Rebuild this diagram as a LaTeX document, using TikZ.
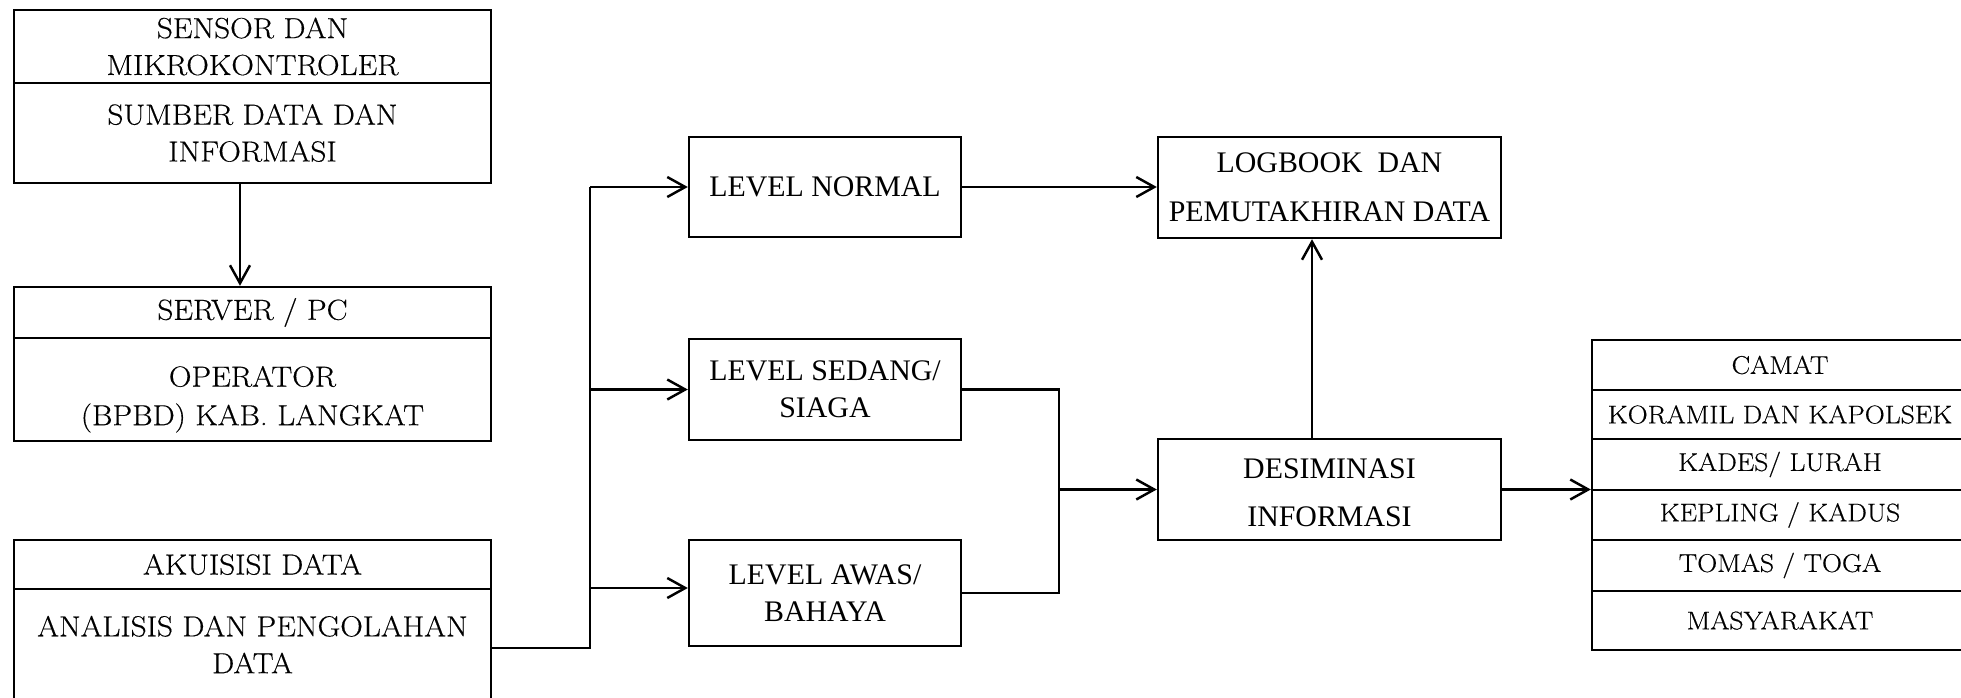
\documentclass[tikz,border=0pt]{standalone}
\usepackage{fontspec}
\newfontfamily\timesf{Liberation Serif}
\newfontfamily\widef{Latin Modern Roman}[FakeStretch=1.08,FakeBold=0.4]
\usetikzlibrary{arrows.meta}
\begin{document}
\begin{tikzpicture}[x=0.02cm,y=-0.02cm,
  box/.style={draw, line width=1.4pt, inner sep=0pt, align=center, rectangle},
  lbox/.style={box, minimum width=9.54cm, font=\widef\fontsize{16.5}{21}\selectfont},
  mbox/.style={box, font=\timesf\fontsize{17}{21}\selectfont},
  rbox/.style={box, minimum width=7.52cm, font=\widef\fontsize{14.6}{18}\selectfont},
  ln/.style={line width=1.4pt},
  arr/.style={ln, -{Straight Barb[length=3.6mm,width=4mm]}}]
\useasboundingbox (0,0) rectangle (1961,697);

% left column
\node[lbox, minimum height=1.46cm] (sen) at (252.5,46.5) {SENSOR DAN\\MIKROKONTROLER};
\node[lbox, minimum height=2.0cm] (sum) at (252.5,133) {SUMBER DATA DAN\\INFORMASI};
\node[lbox, minimum height=1.02cm] (srv) at (252.5,312.5) {SERVER / PC};
\node[lbox, minimum height=2.06cm] (opr) at (252.5,389.5) {\raisebox{-0.18cm}[\height][\depth]{\begin{tabular}{@{}c@{}}OPERATOR\\[1pt](BPBD) KAB. LANGKAT\end{tabular}}};
\node[lbox, minimum height=0.98cm] (aku) at (252.5,564.5) {AKUISISI DATA};
\node[lbox, minimum height=2.22cm] (ana) at (252.5,644.5) {ANALISIS DAN PENGOLAHAN\\DATA};

% middle column
\node[mbox, minimum width=5.44cm, minimum height=2.0cm] (nor) at (825,187) {LEVEL NORMAL};
\node[mbox, minimum width=5.44cm, minimum height=2.02cm] (sed) at (825,389.5) {LEVEL SEDANG/\\SIAGA};
\node[mbox, minimum width=5.44cm, minimum height=2.12cm] (awa) at (825,593) {LEVEL AWAS/\\BAHAYA};
\node[mbox, minimum width=6.86cm, minimum height=2.02cm, font=\timesf\fontsize{17}{28}\selectfont] (log) at (1329.5,187.5) {LOGBOOK\ \ DAN\\PEMUTAKHIRAN DATA};
\node[mbox, minimum width=6.86cm, minimum height=2.02cm, font=\timesf\fontsize{17}{27}\selectfont] (des) at (1329.5,489.5) {\raisebox{-0.07cm}[\height][\depth]{\begin{tabular}{@{}c@{}}DESIMINASI\\INFORMASI\end{tabular}}};

% right column
\node[rbox, minimum height=1.0cm] (cam) at (1780,365) {CAMAT};
\node[rbox, minimum height=0.98cm] (kor) at (1780,414.5) {KORAMIL DAN KAPOLSEK};
\node[rbox, minimum height=1.02cm] (kad) at (1780,464.5) {KADES/ LURAH};
\node[rbox, minimum height=1.0cm] (kep) at (1780,515) {KEPLING / KADUS};
\node[rbox, minimum height=1.02cm] (tom) at (1780,565.5) {TOMAS / TOGA};
\node[rbox, minimum height=1.18cm] (mas) at (1780,620.5) {MASYARAKAT};

% connectors
\coordinate (ax) at (240,0);
\draw[arr] (ax |- sum.south) -- (ax |- srv.north);

\coordinate (sx) at (590,0);
\coordinate (fy) at (0,648);
\coordinate (ay) at (0,588);
\draw[ln] (ana.east |- fy) -- (sx |- fy) -- (sx |- nor.west);
\draw[arr] (sx |- nor.west) -- (nor.west);
\draw[arr] (sx |- sed.west) -- (sed.west);
\draw[arr] (sx |- ay) -- (awa.west |- ay);

\draw[arr] (nor.east) -- (log.west |- nor.east);

\coordinate (jx) at (1059,0);
\draw[ln] (sed.east) -- (jx |- sed.east) -- (jx |- awa.east) -- (awa.east);
\draw[arr] (jx |- des.west) -- (des.west);

\coordinate (ux) at (1312,0);
\draw[arr] (ux |- des.north) -- (ux |- log.south);

\draw[arr] (des.east) -- (kep.west |- des.east);
\end{tikzpicture}
\end{document}
